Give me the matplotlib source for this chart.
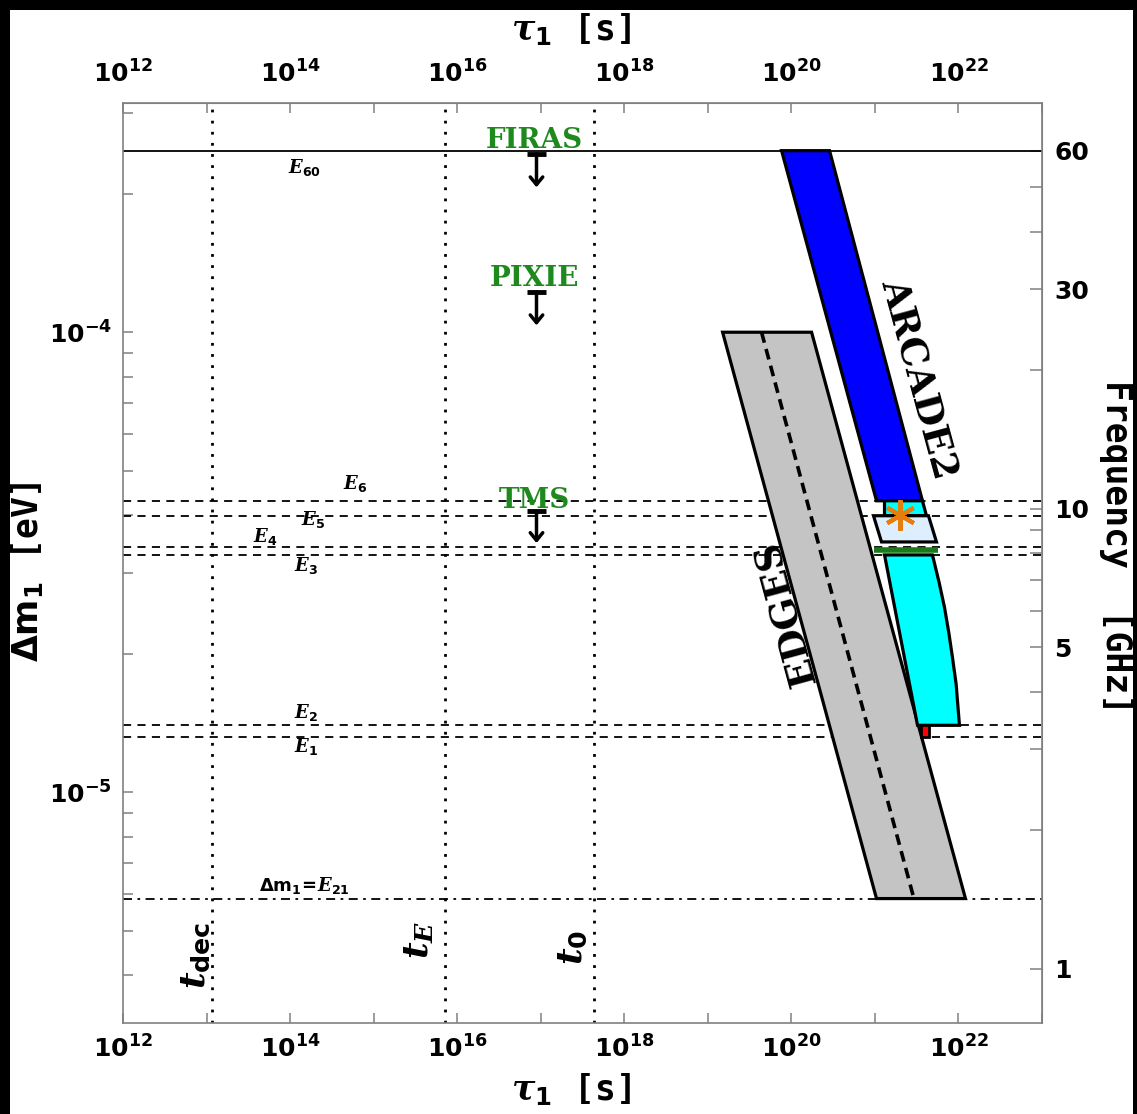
import numpy as np
import matplotlib
matplotlib.use("Agg")
import matplotlib.pyplot as plt
from matplotlib.patches import Polygon, Rectangle

plt.rcParams['mathtext.fontset'] = 'custom'
plt.rcParams['mathtext.rm'] = 'DejaVu Sans:bold'
plt.rcParams['mathtext.it'] = 'DejaVu Serif:italic:bold'
plt.rcParams['mathtext.bf'] = 'DejaVu Sans:bold'
plt.rcParams['mathtext.sf'] = 'DejaVu Sans:bold'

H_GHZ = 4.135667e-6  # eV per GHz

# ---- data ----
# horizontal energy levels [GHz]
level_names = ['E60', 'E6', 'E5', 'E4', 'E3', 'E2', 'E1', 'E21']
level_ghz = [60.0, 10.4, 9.65, 8.27, 7.93, 3.38, 3.19, 1.42]
E = {n: g * H_GHZ for n, g in zip(level_names, level_ghz)}

# vertical times [s]
time_names = ['t_dec', 't_E', 't_0']
time_vals = [1.15e13, 7.1e15, 4.35e17]

# x ticks
x_decades = list(range(12, 24))
x_ticklabels = [r'$\mathbf{10^{%d}}$' % d if d % 2 == 0 and d <= 22 else '' for d in x_decades]
y_major = [1e-5, 1e-4]
y_major_labels = [r'$\mathbf{10^{-5}}$', r'$\mathbf{10^{-4}}$']
freq_ticks = [1, 2, 3, 4, 5, 6, 7, 8, 9, 10, 20, 30, 40, 50, 60]
freq_labels = ['1', '', '', '', '5', '', '', '', '', '10', '', '30', '', '', '60']

# region polygons: (log10 tau, delta m)
arcade_blue_logt = [19.883, 20.457, 21.569, 21.019]
arcade_blue_dm = [E['E60'], E['E60'], E['E6'], E['E6']]
cyan_strip_logt = [21.115, 21.569, 21.617, 21.115]
cyan_strip_dm = [E['E6'], E['E6'], E['E5'], E['E5']]
light_box_logt = [20.983, 21.641, 21.737, 21.079]
light_box_dm = [E['E5'], E['E5'], 3.50e-5, 3.50e-5]
green_logt = [20.995, 21.761]
green_dm = [3.366e-5, 3.366e-5]
cyan_big_logt = [21.115, 21.689, 21.770, 21.833, 21.885, 21.928, 21.972, 22.012, 21.510]
cyan_big_dm = [E['E3'], E['E3'], 2.85e-5, 2.523e-5, 2.22e-5, 1.965e-5, 1.72e-5, E['E2'], E['E2']]
red_logt = [21.557, 21.653, 21.653, 21.557]
red_dm = [E['E2'], E['E2'], E['E1'], E['E1']]
edges_logt = [19.177, 20.242, 22.084, 21.019]
edges_dm = [1.0e-4, 1.0e-4, E['E21'], E['E21']]
edges_mid_logt = [19.643, 21.467]
edges_mid_dm = [1.0e-4, E['E21']]
star_tau, star_dm = 1.97e21, 4.0e-5

# experiment limits (arrows)
exp_names = ['FIRAS', 'PIXIE', 'TMS']
exp_label_dm = [2.61e-4, 1.31e-4, 4.31e-5]
exp_bar_dm = [2.44e-4, 1.222e-4, 4.08e-5]
exp_tip_dm = [2.065e-4, 1.035e-4, 3.48e-5]
exp_tau = 8.9e16
exp_bar_tau = (6.8e16, 1.15e17)

# ---- figure ----
W, Hh = 1137, 1114
fig = plt.figure(figsize=(W / 100, Hh / 100), dpi=100, facecolor='black')
fig.patches.append(Rectangle((10 / W, 0), (1133 - 10) / W, 1104 / Hh,
                             transform=fig.transFigure, facecolor='white',
                             edgecolor='none', zorder=-10))
ax = fig.add_axes([123 / W, 1 - 1023 / Hh, (1042 - 123) / W, (1023 - 103) / Hh])
ax.set_xscale('log')
ax.set_yscale('log')
ax.set_xlim(1e12, 1e23)
ax.set_ylim(3.15e-6, 3.15e-4)

# lines
ax.axhline(E['E60'], color='black', lw=1.3, zorder=2)
for n in ['E6', 'E5', 'E4', 'E3', 'E2', 'E1']:
    ax.axhline(E[n], color='black', lw=1.3, ls=(0, (4.5, 3.5)), zorder=2)
ax.axhline(E['E21'], color='black', lw=1.3, ls=(0, (5, 3, 1.5, 3)), zorder=2)
for t in time_vals:
    ax.axvline(t, color='black', lw=2.0, ls=(0, (1, 3)), zorder=2)

def poly(logt, dm, fc, z=3, lw=2.3):
    pts = np.column_stack([10 ** np.array(logt), np.array(dm)])
    p = Polygon(pts, closed=True, facecolor=fc, edgecolor='black', lw=lw,
                joinstyle='miter', zorder=z)
    ax.add_patch(p)

poly(edges_logt, edges_dm, '#c4c4c4', z=3)
ax.plot(10 ** np.array(edges_mid_logt), edges_mid_dm, color='black', lw=2.6,
        ls=(0, (3, 1.8)), zorder=3.5)
poly(arcade_blue_logt, arcade_blue_dm, '#0000ff', z=4)
poly(cyan_strip_logt, cyan_strip_dm, '#00ffff', z=4)
poly(light_box_logt, light_box_dm, '#ddeeff', z=4)
poly(cyan_big_logt, cyan_big_dm, '#00ffff', z=4)
poly(red_logt, red_dm, '#ff0000', z=4, lw=2)
ax.plot(10 ** np.array(green_logt), green_dm, color='#1a7a1a', lw=4,
        solid_capstyle='butt', zorder=5)
ax.plot([star_tau], [star_dm], marker=(6, 2, 0), ms=22, color='#e67e0e',
        mec='#e67e0e', mew=3, zorder=6)

# experiment labels + arrows
for name, yl, yb, yt in zip(exp_names, exp_label_dm, exp_bar_dm, exp_tip_dm):
    ax.text(exp_tau * 0.95, yl, name, color='#1e8a1e', fontsize=20,
            family='DejaVu Serif', weight='bold', ha='center', va='center', zorder=7)
    ax.plot(list(exp_bar_tau), [yb, yb], color='black', lw=3.5,
            solid_capstyle='butt', zorder=7)
    ax.annotate('', xy=(exp_tau, yt), xytext=(exp_tau, yb),
                arrowprops=dict(arrowstyle='->,head_length=0.55,head_width=0.45',
                                lw=2.5, color='black', shrinkA=0, shrinkB=0),
                zorder=7)

# level labels
lab_fs = 13
level_label_pos = {
    'E60': (1.5e14, 2.28e-4), 'E6': (5.96e14, 4.69e-5), 'E5': (1.86e14, 3.92e-5),
    'E4': (5.0e13, 3.6e-5), 'E3': (1.55e14, 3.11e-5), 'E2': (1.55e14, 1.49e-5),
    'E1': (1.55e14, 1.26e-5),
}
for n, (x, y) in level_label_pos.items():
    ax.text(x, y, r'$E_{%s}$' % n[1:], fontsize=lab_fs, ha='center', va='center', zorder=7)
ax.text(1.5e14, 6.28e-6, r'$\Delta\mathrm{m}_1\!=\!E_{21}$', fontsize=lab_fs,
        ha='center', va='center', zorder=7)

# time labels
ax.text(7.3e12, 4.43e-6, r'$t_{\mathrm{dec}}$', fontsize=26, rotation=90,
        ha='center', va='center', zorder=7)
ax.text(3.5e15, 4.78e-6, r'$t_{E}$', fontsize=26, rotation=90,
        ha='center', va='center', zorder=7)
ax.text(2.34e17, 4.6e-6, r'$t_{\mathrm{0}}$', fontsize=26, rotation=90,
        ha='center', va='center', zorder=7)

# region labels
ax.text(10 ** 21.51, 7.94e-5, 'ARCADE2', fontsize=27, family='DejaVu Serif',
        weight='bold', rotation=-74.8, ha='center', va='center', zorder=7,
        rotation_mode='anchor')
ax.text(10 ** 19.94, 2.45e-5, 'EDGES', fontsize=27, family='DejaVu Serif',
        weight='bold', rotation=105.2, ha='center', va='center', zorder=7,
        rotation_mode='anchor')

# axes styling
spine_c = '#808080'
for s in ax.spines.values():
    s.set_color(spine_c)
    s.set_linewidth(1.2)
ax.set_xticks([10.0 ** d for d in x_decades])
ax.set_xticklabels(x_ticklabels)
ax.xaxis.set_minor_locator(matplotlib.ticker.NullLocator())
ax.set_yticks(y_major)
ax.set_yticklabels(y_major_labels)
ax.yaxis.set_minor_locator(matplotlib.ticker.LogLocator(base=10, subs=np.arange(2, 10)))
ax.yaxis.set_minor_formatter(matplotlib.ticker.NullFormatter())
ax.tick_params(which='both', direction='in', color=spine_c, width=1.1, labelsize=18)
ax.tick_params(which='major', length=7)
ax.tick_params(which='minor', length=7)
ax.tick_params(axis='x', pad=9)
ax.tick_params(axis='y', right=False, pad=8)

topx = ax.secondary_xaxis('top')
topx.set_xticks([10.0 ** d for d in x_decades])
topx.set_xticklabels(x_ticklabels)
topx.xaxis.set_minor_locator(matplotlib.ticker.NullLocator())
topx.tick_params(which='both', direction='in', color=spine_c, width=1.1, length=7,
                 labelsize=18, pad=11)
topx.spines['top'].set_color(spine_c)

righty = ax.secondary_yaxis('right', functions=(lambda d: d / H_GHZ, lambda f: f * H_GHZ))
righty.set_yticks(freq_ticks)
righty.set_yticklabels(freq_labels, fontweight='bold')
righty.yaxis.set_minor_locator(matplotlib.ticker.NullLocator())
righty.tick_params(which='both', direction='in', color=spine_c, width=1.1, length=9,
                   labelsize=18, pad=9)
righty.spines['right'].set_color(spine_c)

# axis titles
fig.text(0.502, 1 - 1090 / Hh, r'$\tau_1$ [s]', fontsize=25, family='DejaVu Sans Mono',
         weight='bold', ha='center', va='center')
fig.text(0.502, 1 - 30 / Hh, r'$\tau_1$ [s]', fontsize=25, family='DejaVu Sans Mono',
         weight='bold', ha='center', va='center')
fig.text(28 / W, 1 - 572 / Hh, r'$\Delta\mathrm{m}_1$ [eV]', fontsize=25,
         family='DejaVu Sans Mono', weight='bold', rotation=90, ha='center', va='center')
fig.text(1116 / W, 1 - 547 / Hh, 'Frequency  [GHz]', fontsize=25,
         family='DejaVu Sans Mono', weight='bold', rotation=-90, ha='center', va='center')

fig.savefig('out.png', dpi=100, facecolor='black')
